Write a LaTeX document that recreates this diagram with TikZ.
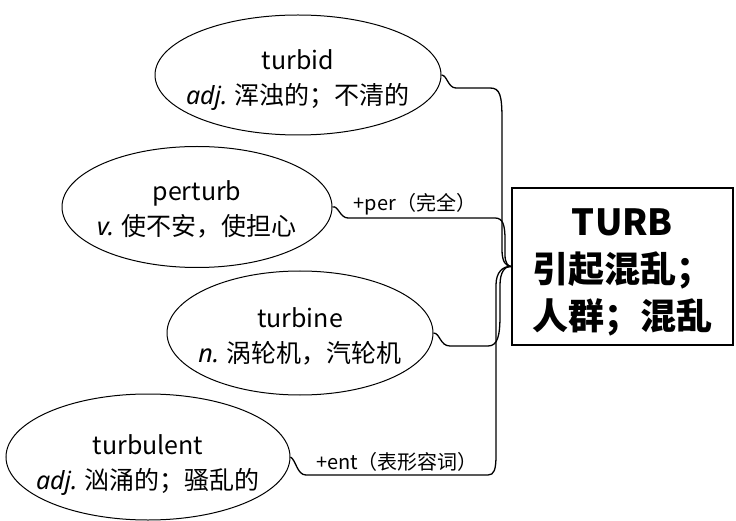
\documentclass[tikz,border=0pt]{standalone}
\usepackage{fontspec}
\setmainfont{Noto Sans CJK SC}
\newfontfamily\latinit{Noto Sans}
\usetikzlibrary{shapes.geometric}
\tikzset{
  word/.style={draw, ellipse, line width=1pt, inner sep=0pt},
  wtext/.style={inner sep=0pt, align=center, font=\fontsize{25}{35}\selectfont},
  link/.style={line width=1.3pt},
  lbl/.style={font=\fontsize{20}{22}\selectfont, inner sep=0pt},
  rootbox/.style={draw, line width=2.2pt, inner sep=0pt, align=center,
    minimum width=221pt, minimum height=157pt},
  roottext/.style={inner sep=0pt, align=center, font=\bfseries\fontsize{36}{47}\selectfont}
}
\newcommand{\pos}[1]{{\latinit\itshape #1}}
\begin{document}
\begin{tikzpicture}[x=1pt,y=-1pt]
\useasboundingbox (0,0) rectangle (736,521);
\node[rootbox] (root) at (622.5,266.5) {};
\node[roottext] (rootT) at (622.5,272) {TURB\\引起混乱；\\人群；混乱};
\node[word, minimum width=286pt, minimum height=120pt] (w1) at (298,75) {};
\node[wtext] (w1t) at (298,80) {turbid\\\pos{adj.} 浑浊的；不清的};
\node[word, minimum width=270pt, minimum height=121pt] (w2) at (197,207) {};
\node[wtext] (w2t) at (197,209) {perturb\\\pos{v.} 使不安，使担心};
\node[word, minimum width=266pt, minimum height=124pt] (w3) at (300,333) {};
\node[wtext] (w3t) at (300,336) {turbine\\\pos{n.} 涡轮机，汽轮机};
\node[word, minimum width=284pt, minimum height=126pt] (w4) at (148,457) {};
\node[wtext] (w4t) at (148,465) {turbulent\\\pos{adj.} 汹涌的；骚乱的};
\draw[link] (w1.east) .. controls (447,75) and (448,88) .. (456,88) -- (490,88)
  .. controls (500,88) and (502,95) .. (502,120) -- (502,250)
  .. controls (502,262) and (506,266) .. (root.west);
\draw[link] (w2.east) .. controls (338,205) and (340,218) .. (348,218) -- (495,218)
  .. controls (503,218) and (505,225) .. (505,240) -- (505,255)
  .. controls (505,263) and (508,266) .. (root.west);
\draw[link] (w3.east) .. controls (440,333) and (440,346) .. (450,346) -- (488,346)
  .. controls (498,346) and (500,335) .. (500,315) -- (500,285)
  .. controls (500,272) and (505,266) .. (root.west);
\draw[link] (w4.east) .. controls (296,460) and (297,475) .. (306,475) -- (488,475)
  .. controls (494,475) and (496,470) .. (496,455) -- (496,285)
  .. controls (496,272) and (503,266) .. (root.west);
\node[lbl] (l2) at (415,204) {+per（完全）};
\node[lbl] (l4) at (397,462) {+ent（表形容词）};
\end{tikzpicture}
\end{document}
